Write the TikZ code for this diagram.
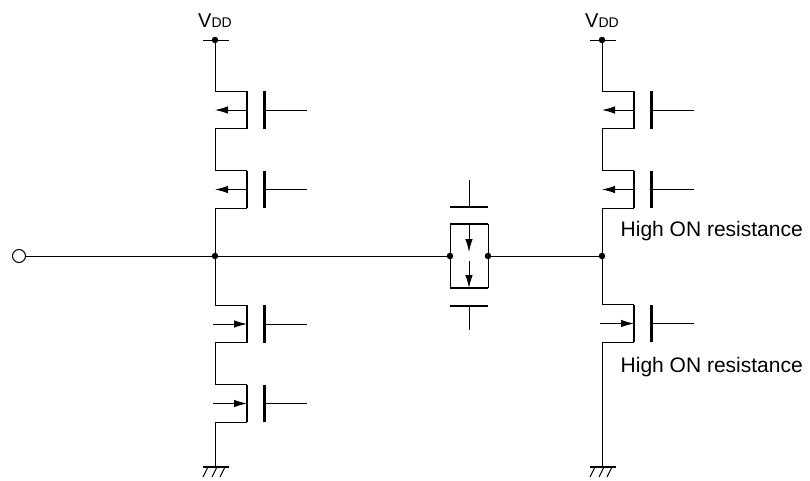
\documentclass[tikz,border=0pt]{standalone}
\usepackage{fontspec}
\setmainfont{Liberation Sans}
\usetikzlibrary{arrows.meta}
\tikzset{
  wire/.style={line width=1pt,black},
  bar/.style={line width=2.6pt,black,line cap=butt},
  tip/.style={-{Latex[length=13pt,width=7.5pt]}},
  junction/.style={circle,fill=black,inner sep=0pt,minimum size=6.5pt},
  lbl/.style={font=\fontsize{21}{21}\selectfont,anchor=base west,inner sep=0pt},
  vdd/.style={anchor=base,inner sep=0pt}
}
% #1 name, #2 rail x, #3 top y, #4 arrow direction (0 = to rail, 1 = to bar)
\newcommand{\mosfet}[4]{%
  \coordinate (#1rail) at (#2,#3+19);
  \coordinate (#1tl) at (#2,#3);
  \coordinate (#1bl) at (#2,#3+37.5);
  \coordinate (#1tr) at (#2+32,#3);
  \coordinate (#1br) at (#2+32,#3+37.5);
  \coordinate (#1mid) at (#2+32,#3+19);
  \coordinate (#1gt) at (#2+49.5,#3);
  \coordinate (#1gb) at (#2+49.5,#3+37.5);
  \coordinate (#1gm) at (#2+49.5,#3+19);
  \coordinate (#1ge) at (#2+92,#3+19);
  \draw[wire] (#1tl) -- (#1tr);
  \draw[wire] (#1bl) -- (#1br);
  \draw[bar] (#1tr) -- (#1br);
  \draw[bar] (#1gt) -- (#1gb);
  \draw[wire] (#1gm) -- (#1ge);
  \ifnum#4=0
    \draw[wire,tip] (#1mid) -- (#1rail);
  \else
    \draw[wire,tip] ([xshift=-2pt]#1rail) -- (#1mid);
  \fi
}
% #1 name, #2 x, #3 y
\newcommand{\groundsym}[3]{%
  \coordinate (#1) at (#2,#3);
  \coordinate (#1l) at (#2-12,#3);
  \coordinate (#1r) at (#2+14,#3);
  \draw[line width=2pt] (#1l) -- (#1r);
  \foreach \dx in {-7,2,10}{
    \draw[line width=1pt] (#2+\dx,#3) -- (#2+\dx-5,#3+10);
  }
}
\begin{document}
\begin{tikzpicture}[x=1pt,y=-1pt]
\useasboundingbox (0,0) rectangle (810,480);
% input
\node[circle,draw,line width=1pt,minimum size=13pt,inner sep=0pt] (in) at (19,256) {};
% left column
\mosfet{a}{215}{91}{0}
\mosfet{b}{215}{170.5}{0}
\mosfet{c}{215}{305}{1}
\mosfet{d}{215}{384.5}{1}
% right column
\mosfet{e}{602}{91}{0}
\mosfet{f}{602}{170.5}{0}
\mosfet{g}{602}{304.5}{1}
% junctions
\node[junction] (vl) at (215,40) {};
\node[junction] (vr) at (602,40) {};
\node[junction] (jl) at (215,256) {};
\node[junction] (jr) at (602,256) {};
\node[junction] (tl) at (450,256) {};
\node[junction] (tr) at (488,256) {};
% supply ticks
\coordinate (vll) at (203,40); \coordinate (vlr) at (229,40);
\coordinate (vrl) at (590,40); \coordinate (vrr) at (616,40);
\draw[wire] (vll) -- (vlr);
\draw[wire] (vrl) -- (vrr);
% supply labels
\node[vdd] (vddl) at (215,27) {\fontsize{20}{20}\selectfont V\fontsize{14}{14}\selectfont DD};
\node[vdd] (vddr) at (602,27) {\fontsize{20}{20}\selectfont V\fontsize{14}{14}\selectfont DD};
% grounds
\groundsym{gl}{215}{467}
\groundsym{gr}{602}{467}
% rails
\draw[wire] (vl) -- (atl);
\draw[wire] (abl) -- (btl);
\draw[wire] (bbl) -- (jl);
\draw[wire] (jl) -- (ctl);
\draw[wire] (cbl) -- (dtl);
\draw[wire] (dbl) -- (gl);
\draw[wire] (vr) -- (etl);
\draw[wire] (ebl) -- (ftl);
\draw[wire] (fbl) -- (jr);
\draw[wire] (jr) -- (gtl);
\draw[wire] (gbl) -- (gr);
% horizontal signal
\draw[wire] (in) -- (jl);
\draw[wire] (jl) -- (tl);
\draw[wire] (tr) -- (jr);
% transmission gate
\coordinate (ntl) at (450,224); \coordinate (ntr) at (488,224);
\coordinate (nbl) at (450,288); \coordinate (nbr) at (488,288);
\coordinate (ntm) at (469,224); \coordinate (nta) at (469,252);
\coordinate (nbs) at (469,261); \coordinate (nbm) at (469,288);
\coordinate (xtl) at (450,207); \coordinate (xtr) at (488,207);
\coordinate (xtm) at (469,207); \coordinate (xte) at (469,180);
\coordinate (xbl) at (450,306); \coordinate (xbr) at (488,306);
\coordinate (xbm) at (469,306); \coordinate (xbe) at (469,330);
\draw[wire] (ntl) -- (nbl);
\draw[wire] (ntr) -- (nbr);
\draw[bar] (ntl) -- (ntr);
\draw[bar] (nbl) -- (nbr);
\draw[wire,tip] (ntm) -- (nta);
\draw[wire,tip] (nbs) -- (nbm);
\draw[bar] (xtl) -- (xtr);
\draw[bar] (xbl) -- (xbr);
\draw[wire] (xtm) -- (xte);
\draw[wire] (xbm) -- (xbe);
% labels
\node[lbl] (h1) at (620.5,236) {High ON resistance};
\node[lbl] (h2) at (620.5,372) {High ON resistance};
\end{tikzpicture}
\end{document}
